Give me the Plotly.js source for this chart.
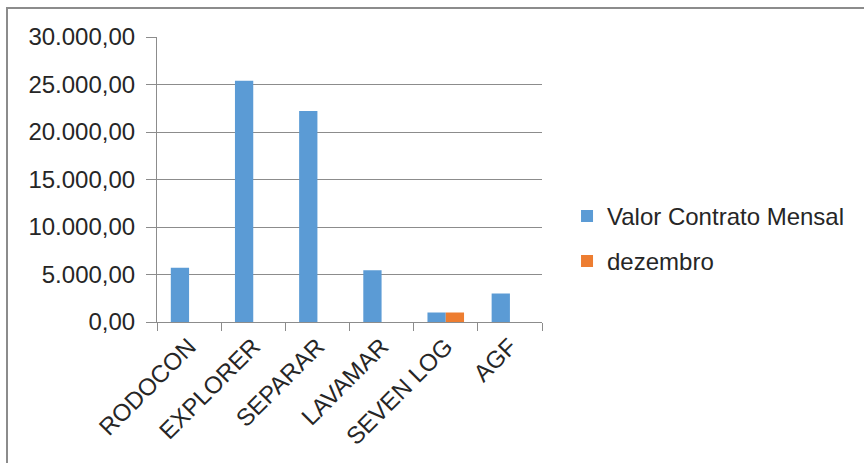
<!DOCTYPE html>
<html>
<head>
<meta charset="utf-8">
<script src="https://cdn.plot.ly/plotly-3.0.1.min.js"></script>
<style>
html,body{margin:0;padding:0;background:#fff;}
#wrap{position:relative;width:864px;height:463px;}
#chart{width:864px;height:463px;}
#frame{position:absolute;left:6px;top:7px;right:-2px;bottom:-2px;border-top:2px solid #8c8c8c;border-left:2px solid #8c8c8c;pointer-events:none;}
</style>
</head>
<body>
<div id="wrap"><div id="chart"></div><div id="frame"></div></div>
<script>
const categories = ["RODOCON", "EXPLORER", "SEPARAR", "LAVAMAR", "SEVEN LOG", "AGF"];
const valorContratoMensal = [5720, 25400, 22200, 5450, 1000, 3000];
const dezembro = [null, null, null, null, 1000, null];
const seriesNames = ["Valor Contrato Mensal", "dezembro"];
const yTicks = [0, 5000, 10000, 15000, 20000, 25000, 30000];

const FONT = "Liberation Sans, Arial, sans-serif";
const traces = [
  {type: "bar", name: seriesNames[0], x: categories, y: valorContratoMensal,
   marker: {color: "#5B9BD5"}, legendgroup: "a", hoverinfo: "x+y"},
  {type: "bar", name: seriesNames[1], x: categories, y: dezembro,
   marker: {color: "#ED7D31"}, legendgroup: "b", hoverinfo: "x+y"}
];
const layout = {
  width: 864, height: 463,
  margin: {l: 157, r: 322, t: 37, b: 141, pad: 0},
  paper_bgcolor: "#fff", plot_bgcolor: "#fff",
  separators: ",.",
  font: {family: FONT, size: 24, color: "#262626"},
  barmode: "group", bargap: 0.43, bargroupgap: 0,
  showlegend: true,
  legend: {x: 1.065, xanchor: "left", y: 0.292, yanchor: "middle",
           font: {family: FONT, size: 24, color: "#262626"},
           traceorder: "grouped", tracegroupgap: 11, bgcolor: "rgba(0,0,0,0)"},
  xaxis: {type: "category", tickangle: -45, showline: true, linecolor: "#8c8c8c", linewidth: 1,
          ticks: "outside", tickson: "boundaries", ticklen: 8, tickcolor: "#8c8c8c",
          showgrid: false, zeroline: false, tickfont: {family: FONT, size: 24, color: "#262626"}},
  yaxis: {range: [0, 30000], tickvals: yTicks, tickformat: ",.2f",
          showline: true, linecolor: "#8c8c8c", linewidth: 1,
          ticks: "outside", ticklen: 10, tickcolor: "#8c8c8c",
          showgrid: true, gridcolor: "#8c8c8c", gridwidth: 1, zeroline: false,
          ticklabelstandoff: 6,
          tickfont: {family: FONT, size: 24, color: "#262626"}}
};
Plotly.newPlot("chart", traces, layout, {staticPlot: true, displayModeBar: false});
</script>
</body>
</html>
